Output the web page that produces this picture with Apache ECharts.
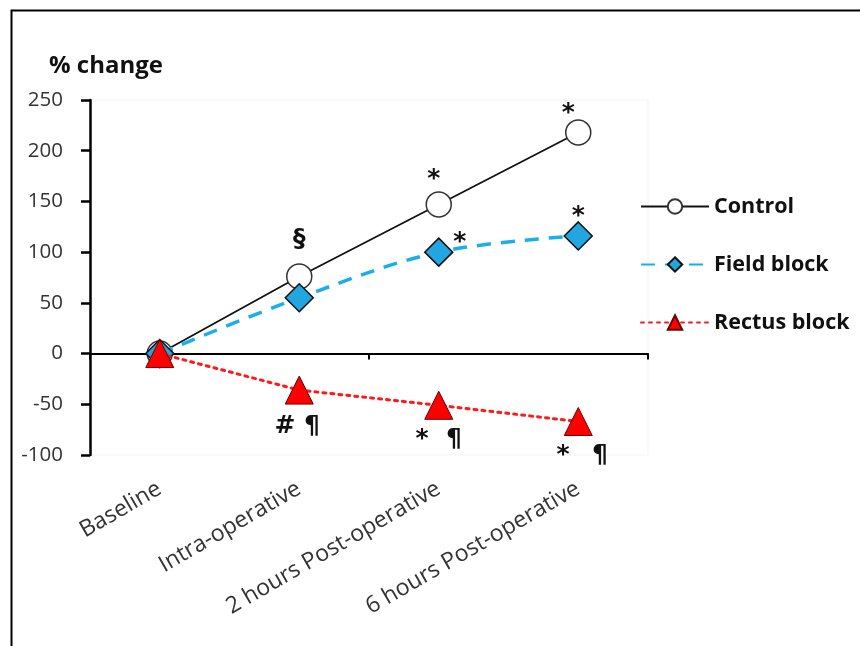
<!DOCTYPE html>
<html>
<head>
<meta charset="utf-8">
<script src="https://cdn.jsdelivr.net/npm/echarts@6/dist/echarts.min.js"></script>
<style>html,body{margin:0;padding:0;background:#fff}#c{width:860px;height:646px}</style>
</head>
<body>
<div id="c"></div>
<script>
const categories = ['Baseline', 'Intra-operative', '2 hours Post-operative', '6 hours Post-operative'];
const controlValues = [0, 76, 147, 218];
const fieldValues = [0, 55, 100, 116];
const rectusValues = [0, -36, -51, -67];
const yTicks = { min: -100, max: 250, interval: 50 };
const controlMarks = ['', '§', '*', '*'];
const fieldMarks = ['', '', '*', '*'];
const rectusMarks = ['', '# ¶', '*  ¶', '*  \u2009¶'];

const FONT = 'Open Sans';
const markFont = { fontFamily: 'DejaVu Sans', fontWeight: 'bold', fontSize: 25, color: '#111' };
const controlOff = [null, [0, -37], [-5, -25], [-10, -19]];
const fieldOff = [null, null, [21, -10], [0, -19]];
const rectusOff = [null, [-2, 36], [0, 34], [4, 34]];

function withMarks(vals, marks, offs) {
  return vals.map((v, i) => marks[i] ? {
    value: v,
    label: Object.assign({ show: true, formatter: marks[i], position: 'inside', offset: offs[i], align: 'center', verticalAlign: 'middle' }, markFont)
  } : v);
}

const chart = echarts.init(document.getElementById('c'), null, { renderer: 'canvas' });
chart.setOption({
  animation: false,
  backgroundColor: '#fff',
  graphic: [{
    type: 'rect', left: 9, top: 8, z: 100, silent: true,
    shape: { x: 0, y: 0, width: 1000, height: 1000 },
    style: { fill: 'none', stroke: '#000', lineWidth: 2 }
  }],
  title: {
    text: '% change', left: 49, top: 54, padding: 0,
    textStyle: { fontFamily: FONT, fontWeight: 'bold', fontSize: 24, color: '#111' }
  },
  legend: {
    orient: 'vertical', left: 640, top: 195, padding: 0,
    itemWidth: 68, itemHeight: 18, itemGap: 35,
    textStyle: { fontFamily: FONT, fontWeight: 'bold', fontSize: 21.5, color: '#111', lineHeight: 23 },
    data: ['Control', 'Field block', 'Rectus block']
  },
  grid: { left: 90, right: 212, top: 100, bottom: 191, show: true, borderColor: '#f3f3f3', borderWidth: 1 },
  xAxis: [{
    type: 'category', data: categories, boundaryGap: true,
    axisLine: { onZero: true, lineStyle: { color: '#000', width: 2 } },
    axisTick: { show: true, inside: false, length: 6, lineStyle: { color: '#000', width: 2 } },
    axisLabel: { show: false }, splitLine: { show: false }
  }, {
    type: 'category', data: categories, boundaryGap: true, position: 'bottom',
    axisLine: { show: false, onZero: false }, axisTick: { show: false },
    axisLabel: { show: true, rotate: 30, margin: 32, interval: 0, fontFamily: FONT, fontSize: 23, color: '#333' },
    splitLine: { show: false }
  }],
  yAxis: {
    type: 'value', min: yTicks.min, max: yTicks.max, interval: yTicks.interval,
    axisLine: { show: true, onZero: false, lineStyle: { color: '#000', width: 2.5 } },
    axisTick: { show: true, inside: false, length: 9, lineStyle: { color: '#000', width: 2.5 } },
    axisLabel: { margin: 27, fontFamily: FONT, fontSize: 20.5, color: '#333' },
    splitLine: { show: false }
  },
  series: [{
    name: 'Control', type: 'line', xAxisIndex: 0,
    data: withMarks(controlValues, controlMarks, controlOff),
    symbol: 'circle', symbolSize: 25,
    lineStyle: { color: '#111', width: 1.8, type: 'solid' },
    itemStyle: { color: '#fff', borderColor: '#333', borderWidth: 1.5 },
    z: 2
  }, {
    name: 'Field block', type: 'line', xAxisIndex: 0,
    data: withMarks(fieldValues, fieldMarks, fieldOff),
    symbol: 'diamond', symbolSize: 28, smooth: 0.35,
    lineStyle: { color: '#1AAEEA', width: 3.5, type: [14, 10] },
    itemStyle: { color: '#22A6DF', borderColor: '#111', borderWidth: 1.5 },
    z: 3
  }, {
    name: 'Rectus block', type: 'line', xAxisIndex: 0,
    data: withMarks(rectusValues, rectusMarks, rectusOff),
    symbol: 'triangle', symbolSize: 28,
    lineStyle: { color: '#FF1A1A', width: 3, type: [3, 5], cap: 'round' },
    itemStyle: { color: '#FF0000', borderColor: '#6b0000', borderWidth: 1 },
    z: 4
  }]
});
</script>
</body>
</html>
